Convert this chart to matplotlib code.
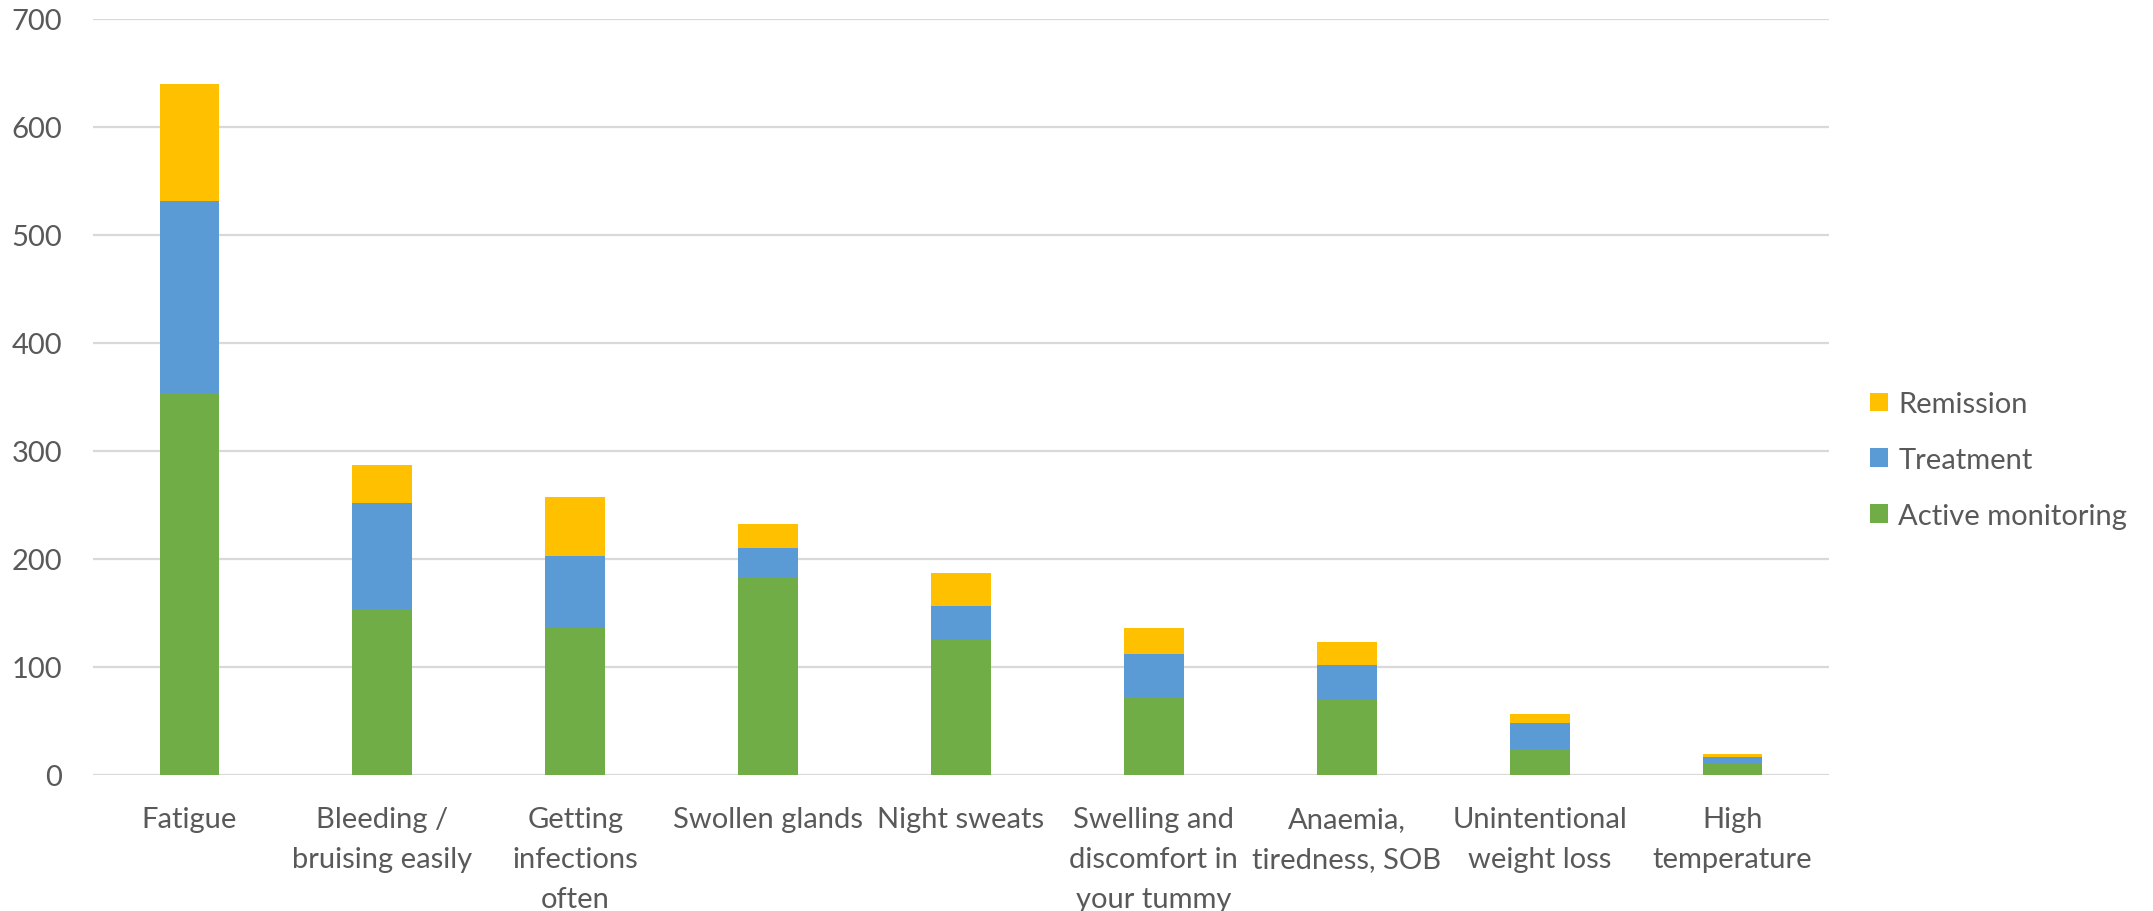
import matplotlib
matplotlib.use("Agg")
import matplotlib.pyplot as plt
import numpy as np

categories = [
    "Fatigue",
    "Bleeding /\nbruising easily",
    "Getting\ninfections\noften",
    "Swollen glands",
    "Night sweats",
    "Swelling and\ndiscomfort in\nyour tummy",
    "Anaemia,\ntiredness, SOB",
    "Unintentional\nweight loss",
    "High\ntemperature",
]
active_monitoring = [353, 154, 136, 182, 125, 71, 70, 23, 11]
treatment = [178, 98, 67, 28, 31, 41, 32, 25, 6]
remission = [109, 35, 54, 22, 31, 24, 21, 8, 2]
y_ticks = [0, 100, 200, 300, 400, 500, 600, 700]

GREEN = "#70AD47"
BLUE = "#5B9BD5"
GOLD = "#FFC000"
TEXT = "#595959"
GRID = "#D9D9D9"
FS = 21

plt.rcParams["font.family"] = ["Lato", "DejaVu Sans"]

W, H = 2153, 912
fig = plt.figure(figsize=(W / 100, H / 100), dpi=100)
ax = fig.add_axes([93 / W, 1 - 776 / H, (1829 - 93) / W, (776 - 19.7) / H])

x = np.arange(len(categories))
am = np.array(active_monitoring)
tr = np.array(treatment)
rm = np.array(remission)
width = 0.31

b1 = ax.bar(x, am, width, color=GREEN, label="Active monitoring", zorder=3)
b2 = ax.bar(x, tr, width, bottom=am, color=BLUE, label="Treatment", zorder=3)
b3 = ax.bar(x, rm, width, bottom=am + tr, color=GOLD, label="Remission", zorder=3)

ax.set_xlim(-0.5, len(categories) - 0.5)
ax.set_ylim(0, 700)
ax.set_yticks(y_ticks)
ax.yaxis.grid(True, color=GRID, linewidth=1.6, zorder=0)
ax.set_axisbelow(True)
for s in ax.spines.values():
    s.set_visible(False)

ax.set_xticks(x)
ax.set_xticklabels(categories, fontsize=FS, color=TEXT, linespacing=1.68)
ax.tick_params(axis="x", length=0, pad=22)
ax.tick_params(axis="y", length=0, pad=22, labelsize=FS, labelcolor=TEXT)

leg = fig.legend(
    handles=[b3, b2, b1],
    labels=["Remission", "Treatment", "Active monitoring"],
    loc="center left",
    bbox_to_anchor=(1870 / W, 1 - 461 / H),
    frameon=False,
    fontsize=FS,
    handlelength=0.62,
    handleheight=0.62,
    handletextpad=0.35,
    labelspacing=1.02,
    borderpad=0,
    borderaxespad=0,
)
for t in leg.get_texts():
    t.set_color(TEXT)

fig.savefig("out.png", dpi=100, facecolor="white")
